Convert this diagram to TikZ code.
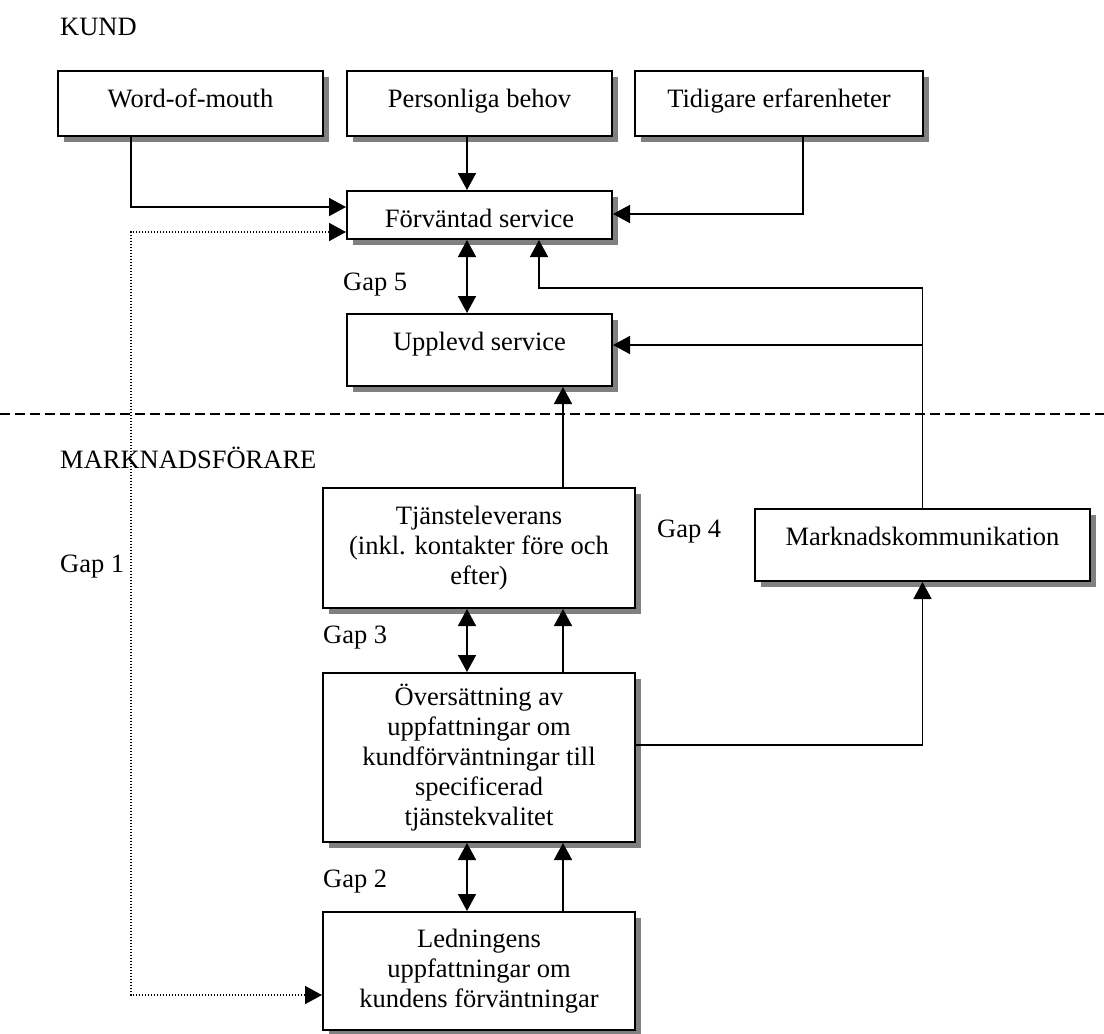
\documentclass[tikz,border=0pt]{standalone}
\usepackage{fontspec}
\setmainfont{Liberation Serif}
\usetikzlibrary{shadows}
\usetikzlibrary{arrows.meta}

\newcommand{\diagfont}{\fontsize{26.5pt}{30pt}\selectfont}

\tikzset{
  box/.style={draw, line width=2pt, fill=white, inner xsep=0pt, inner ysep=0pt, font=\diagfont,
    drop shadow={shadow xshift=6pt, shadow yshift=-6pt, fill=black!50, opacity=1}},
  linebox/.style={box, text height=36pt, text depth=#1},
  textbox/.style={box, align=center, minimum height=#1},
  conn/.style={line width=1.6pt, -{Triangle[length=17pt, width=18pt]}},
  twoway/.style={line width=1.6pt, {Triangle[length=17pt, width=18pt]}-{Triangle[length=17pt, width=18pt]}},
  dotconn/.style={twoway, dash pattern=on 1.5pt off 1.5pt},
  lbl/.style={font=\diagfont, anchor=base west, inner sep=0pt},
}

\begin{document}
\begin{tikzpicture}[x=1pt, y=-1pt]
\useasboundingbox (0,0) rectangle (1104,1034);

%\draw[help lines] (0,0) grid[step=100] (1104,1034);
\node[lbl] (kund) at (60,35) {KUND};
\node[lbl] (mf) at (60,468) {MARKNADSFÖRARE};

\draw[line width=1.6pt, dash pattern=on 10pt off 5pt] (0,414) -- (1104,414);

% customer side
\node[linebox=29pt, minimum width=265pt] (wom) at (190.5,103.5) {Word-of-mouth};
\node[linebox=29pt, minimum width=265pt] (beh) at (479.5,103.5) {Personliga behov};
\node[linebox=29pt, minimum width=288pt] (tid) at (779,103.5) {Tidigare erfarenheter};
\node[linebox=12pt, minimum width=265pt] (fv) at (479.5,215) {Förväntad service};
\node[linebox=36pt, minimum width=265pt] (upl) at (479.5,350) {Upplevd service};

% marketer side
\node[textbox=120pt, minimum width=312pt] (tj) at (479,548) {Tjänsteleverans\\(inkl. kontakter före och\\efter)};
\node[linebox=36pt, minimum width=335pt] (mk) at (922.5,545) {Marknadskommunikation};
\node[textbox=169pt, minimum width=312pt] (ov) at (479,757.5) {Översättning av\\uppfattningar om\\kundförväntningar till\\specificerad\\tjänstekvalitet};
\node[textbox=118pt, minimum width=312pt] (led) at (479,971) {Ledningens\\uppfattningar om\\kundens förväntningar};

\node[lbl] (gap1) at (60,572) {Gap 1};
\node[lbl] (gap2) at (323,887) {Gap 2};
\node[lbl] (gap3) at (323,643) {Gap 3};
\node[lbl] (gap4) at (657,537) {Gap 4};
\node[lbl] (gap5) at (343,290) {Gap 5};

% arrows into expected service
\draw[conn] ([xshift=-59.5pt]wom.south) |- ([yshift=8pt]fv.west);
\draw[conn] ([xshift=-12.5pt]beh.south) -- ([xshift=-12.5pt]fv.north);
\draw[conn] ([xshift=24pt]tid.south) |- ([yshift=1pt]fv.east);
\draw[twoway] ([xshift=-12.5pt]fv.south) -- ([xshift=-12.5pt]upl.north);

\draw[conn] (mk.north) -- ++(0,-220) -| ([xshift=59.5pt]fv.south);
\draw[conn] ([yshift=5pt]upl.east -| mk.north) -- ([yshift=5pt]upl.east);
\draw[conn] ([xshift=84pt]tj.north) -- ([xshift=83.5pt]upl.south);

\draw[twoway] ([xshift=-12pt]tj.south) -- ([xshift=-12pt]ov.north);
\draw[conn] ([xshift=84pt]ov.north) -- ([xshift=84pt]tj.south);
\draw[conn] ([yshift=12.5pt]ov.east) -| (mk.south);
\draw[twoway] ([xshift=-12pt]ov.south) -- ([xshift=-12pt]led.north);
\draw[conn] ([xshift=84pt]led.north) -- ([xshift=84pt]ov.south);

% gap 1
\coordinate (dotcorner) at (131,995);
\draw[dotconn] ([yshift=-17pt]fv.west) -| (dotcorner) -- ([yshift=-24pt]led.west);

\end{tikzpicture}
\end{document}
